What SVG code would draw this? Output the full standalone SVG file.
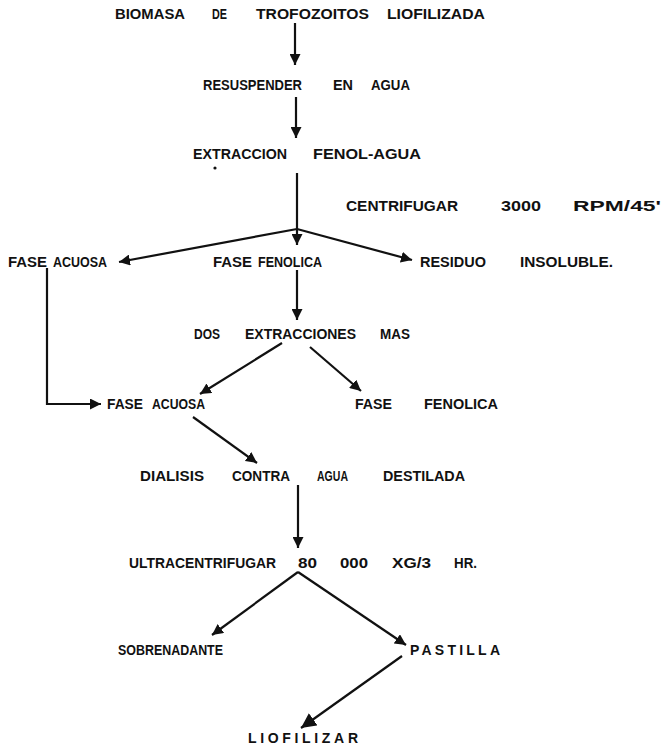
<svg xmlns="http://www.w3.org/2000/svg" width="666" height="747" viewBox="0 0 666 747">
<style>
text{font-family:"Liberation Sans","DejaVu Sans",sans-serif;font-size:14px;font-weight:bold;fill:#111}
.c{stroke:#111;stroke-width:2.2;fill:none}
</style>
<defs>
<marker id="ah" viewBox="0 0 10 10" refX="10" refY="5" markerWidth="11" markerHeight="11" markerUnits="userSpaceOnUse" orient="auto"><path d="M0,0 L10,5 L0,10 z" fill="#111"/></marker>
<marker id="ahb" viewBox="0 0 10 10" refX="10" refY="5" markerWidth="15" markerHeight="15" markerUnits="userSpaceOnUse" orient="auto"><path d="M0,0 L10,5 L0,10 z" fill="#111"/></marker>
</defs>
<rect width="666" height="747" fill="#fff"/>
<g id="connectors">
<line class="c" x1="295" y1="23" x2="295" y2="65" marker-end="url(#ah)"/>
<line class="c" x1="296" y1="97" x2="296" y2="138" marker-end="url(#ah)"/>
<line class="c" x1="297" y1="173" x2="297" y2="245" marker-end="url(#ah)"/>
<line class="c" x1="297" y1="229" x2="119" y2="262" marker-end="url(#ah)"/>
<line class="c" x1="297" y1="229" x2="412" y2="260" marker-end="url(#ah)"/>
<line class="c" x1="297" y1="270" x2="297" y2="320" marker-end="url(#ah)"/>
<line class="c" x1="282" y1="343" x2="200" y2="394" marker-end="url(#ah)"/>
<line class="c" x1="310" y1="347" x2="361" y2="391" marker-end="url(#ah)"/>
<polyline class="c" points="47,268 47,404 101,404" marker-end="url(#ah)"/>
<line class="c" x1="193" y1="417" x2="257" y2="463" marker-end="url(#ah)"/>
<line class="c" x1="298" y1="485" x2="298" y2="548" marker-end="url(#ah)"/>
<line class="c" x1="298" y1="572" x2="212" y2="635" marker-end="url(#ah)"/>
<line class="c" x1="298" y1="572" x2="406" y2="645" marker-end="url(#ah)"/>
<line class="c" x1="402" y1="656" x2="301" y2="728" marker-end="url(#ahb)"/>
</g>
<g id="n1">
<text x="115" y="19" textLength="70" lengthAdjust="spacingAndGlyphs">BIOMASA</text>
<text x="212" y="19" textLength="15" lengthAdjust="spacingAndGlyphs">DE</text>
<text x="256" y="19" textLength="113" lengthAdjust="spacingAndGlyphs">TROFOZOITOS</text>
<text x="387" y="19" textLength="98" lengthAdjust="spacingAndGlyphs">LIOFILIZADA</text>
</g>
<g id="n2">
<text x="203" y="90" textLength="99" lengthAdjust="spacingAndGlyphs">RESUSPENDER</text>
<text x="333" y="90" textLength="20" lengthAdjust="spacingAndGlyphs">EN</text>
<text x="371" y="90" textLength="39" lengthAdjust="spacingAndGlyphs">AGUA</text>
</g>
<g id="n3">
<text x="193" y="159" textLength="94" lengthAdjust="spacingAndGlyphs">EXTRACCION</text>
<text x="313" y="159" textLength="108" lengthAdjust="spacingAndGlyphs">FENOL-AGUA</text>
<circle cx="215" cy="168" r="1.6" fill="#111"/>
</g>
<g id="n4">
<text x="346" y="211" textLength="112" lengthAdjust="spacingAndGlyphs">CENTRIFUGAR</text>
<text x="501" y="211" textLength="40" lengthAdjust="spacingAndGlyphs">3000</text>
<text x="573" y="211" textLength="88" lengthAdjust="spacingAndGlyphs">RPM/45'</text>
</g>
<g id="n5">
<text x="8" y="267" textLength="39" lengthAdjust="spacingAndGlyphs">FASE</text>
<text x="53" y="267" textLength="54" lengthAdjust="spacingAndGlyphs">ACUOSA</text>
</g>
<g id="n6">
<text x="213" y="267" textLength="39" lengthAdjust="spacingAndGlyphs">FASE</text>
<text x="258" y="267" textLength="64" lengthAdjust="spacingAndGlyphs">FENOLICA</text>
</g>
<g id="n7">
<text x="420" y="267" textLength="66" lengthAdjust="spacingAndGlyphs">RESIDUO</text>
<text x="520" y="267" textLength="93" lengthAdjust="spacingAndGlyphs">INSOLUBLE.</text>
</g>
<g id="n8">
<text x="194" y="339" textLength="26" lengthAdjust="spacingAndGlyphs">DOS</text>
<text x="245" y="339" textLength="111" lengthAdjust="spacingAndGlyphs">EXTRACCIONES</text>
<text x="380" y="339" textLength="30" lengthAdjust="spacingAndGlyphs">MAS</text>
</g>
<g id="n9">
<text x="107" y="409" textLength="36" lengthAdjust="spacingAndGlyphs">FASE</text>
<text x="152" y="409" textLength="53" lengthAdjust="spacingAndGlyphs">ACUOSA</text>
</g>
<g id="n10">
<text x="355" y="409" textLength="37" lengthAdjust="spacingAndGlyphs">FASE</text>
<text x="424" y="409" textLength="74" lengthAdjust="spacingAndGlyphs">FENOLICA</text>
</g>
<g id="n11">
<text x="140" y="481" textLength="64" lengthAdjust="spacingAndGlyphs">DIALISIS</text>
<text x="232" y="481" textLength="58" lengthAdjust="spacingAndGlyphs">CONTRA</text>
<text x="317" y="481" textLength="31" lengthAdjust="spacingAndGlyphs">AGUA</text>
<text x="383" y="481" textLength="82" lengthAdjust="spacingAndGlyphs">DESTILADA</text>
</g>
<g id="n12">
<text x="129" y="568" textLength="147" lengthAdjust="spacingAndGlyphs">ULTRACENTRIFUGAR</text>
<text x="298" y="568" textLength="19" lengthAdjust="spacingAndGlyphs">80</text>
<text x="340" y="568" textLength="28" lengthAdjust="spacingAndGlyphs">000</text>
<text x="392" y="568" textLength="39" lengthAdjust="spacingAndGlyphs">XG/3</text>
<text x="454" y="568" textLength="23" lengthAdjust="spacingAndGlyphs">HR.</text>
</g>
<g id="n13">
<text x="118" y="655" textLength="105" lengthAdjust="spacingAndGlyphs">SOBRENADANTE</text>
</g>
<g id="n14">
<text x="410" y="655" textLength="90" lengthAdjust="spacing">PASTILLA</text>
</g>
<g id="n15">
<text x="248" y="743" textLength="110" lengthAdjust="spacing">LIOFILIZAR</text>
</g>
</svg>
